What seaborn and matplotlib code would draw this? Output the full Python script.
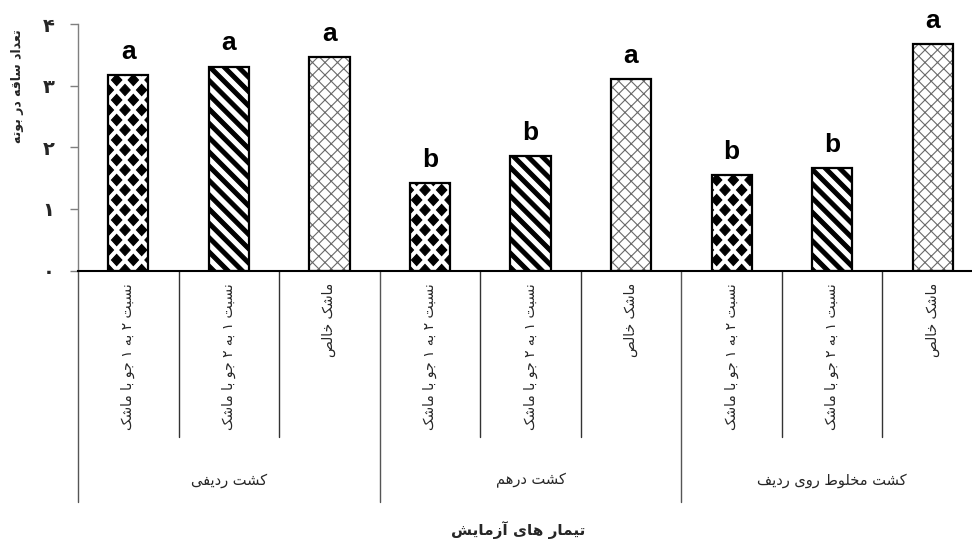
import warnings
warnings.filterwarnings("ignore")

import numpy as np
import pandas as pd
import matplotlib
matplotlib.use("Agg")
import matplotlib.pyplot as plt
import matplotlib.hatch as mhatch
from matplotlib.path import Path
from matplotlib.colors import to_rgba
from matplotlib.transforms import blended_transform_factory
import seaborn as sns

# ---------------------------------------------------------------- data
groups = ["کشت ردیفی", "کشت درهم", "کشت مخلوط روی ردیف"]
treatments = ["نسبت ۲ به ۱ جو با ماشک", "نسبت ۱ به ۲ جو با ماشک", "ماشک خالص"]
stem_counts = [3.17, 3.31, 3.46, 1.42, 1.86, 3.11, 1.55, 1.66, 3.68]
letters = ["a", "a", "a", "b", "b", "a", "b", "b", "a"]
y_ticks = [0, 1, 2, 3, 4]
y_tick_labels = ["۰", "۱", "۲", "۳", "۴"]
y_title = "تعداد ساقه در بوته"
x_title = "تیمار های آزمایش"

# ------------------------------------------------ Persian glyph shaping
# (isolated, final, initial, medial) presentation forms
FORMS = {
    "ا": ("\uFE8D", "\uFE8E", None, None),
    "آ": ("\uFE81", "\uFE82", None, None),
    "ب": ("\uFE8F", "\uFE90", "\uFE91", "\uFE92"),
    "ت": ("\uFE95", "\uFE96", "\uFE97", "\uFE98"),
    "ج": ("\uFE9D", "\uFE9E", "\uFE9F", "\uFEA0"),
    "خ": ("\uFEA5", "\uFEA6", "\uFEA7", "\uFEA8"),
    "د": ("\uFEA9", "\uFEAA", None, None),
    "ر": ("\uFEAD", "\uFEAE", None, None),
    "ز": ("\uFEAF", "\uFEB0", None, None),
    "س": ("\uFEB1", "\uFEB2", "\uFEB3", "\uFEB4"),
    "ش": ("\uFEB5", "\uFEB6", "\uFEB7", "\uFEB8"),
    "ص": ("\uFEB9", "\uFEBA", "\uFEBB", "\uFEBC"),
    "ط": ("\uFEC1", "\uFEC2", "\uFEC3", "\uFEC4"),
    "ع": ("\uFEC9", "\uFECA", "\uFECB", "\uFECC"),
    "ف": ("\uFED1", "\uFED2", "\uFED3", "\uFED4"),
    "ق": ("\uFED5", "\uFED6", "\uFED7", "\uFED8"),
    "ل": ("\uFEDD", "\uFEDE", "\uFEDF", "\uFEE0"),
    "م": ("\uFEE1", "\uFEE2", "\uFEE3", "\uFEE4"),
    "ن": ("\uFEE5", "\uFEE6", "\uFEE7", "\uFEE8"),
    "ه": ("\uFEE9", "\uFEEA", "\uFEEB", "\uFEEC"),
    "و": ("\uFEED", "\uFEEE", None, None),
    "ی": ("\uFBFC", "\uFBFD", "\uFBFE", "\uFBFF"),
    "ک": ("\uFB8E", "\uFB8F", "\uFB90", "\uFB91"),
}


def shape_fa(text):
    """Join Persian letters into their contextual forms and lay them out
    right-to-left for a left-to-right text renderer."""
    out = []
    for i, ch in enumerate(text):
        if ch not in FORMS:
            out.append(ch)
            continue
        prev = text[i - 1] if i > 0 else ""
        nxt = text[i + 1] if i + 1 < len(text) else ""
        join_prev = prev in FORMS and FORMS[prev][2] is not None
        join_next = FORMS[ch][2] is not None and nxt in FORMS
        iso, fin, ini, med = FORMS[ch]
        if join_prev and join_next:
            out.append(med)
        elif join_prev:
            out.append(fin)
        elif join_next:
            out.append(ini)
        else:
            out.append(iso)
    return "".join(reversed(out))


# ---------------------------------------------------------- fill tiles
class FillPatterns(mhatch.HatchPatternBase):
    """'D' staggered black diamonds, 'S' thick back-diagonal stripes,
    'C' fine diagonal cross-hatch."""

    def __init__(self, hatch, density):
        self.pieces = []
        if "D" in hatch:
            ncol, nrow = 6, 10
            hw, hh = 0.5 / ncol * 0.62, 1.0 / nrow * 0.56
            diamond = np.array([[0, hh], [hw, 0], [0, -hh], [-hw, 0], [0, hh]])
            dcodes = [Path.MOVETO, Path.LINETO, Path.LINETO, Path.LINETO, Path.CLOSEPOLY]
            for r in range(nrow + 1):
                y = r / nrow
                if r % 2 == 0:
                    xs = np.arange(ncol + 1) / ncol
                else:
                    xs = (np.arange(ncol) + 0.5) / ncol
                for x in xs:
                    self.pieces.append((diamond + [x, y], dcodes))
        if "S" in hatch:
            n = 7
            h = 0.19 / n
            scodes = [Path.MOVETO, Path.LINETO, Path.LINETO, Path.LINETO, Path.CLOSEPOLY]
            for k in range(-1, 2 * n + 2):
                c = k / n
                band = np.array([[-1, c - h + 1], [2, c - h - 2],
                                 [2, c + h - 2], [-1, c + h + 1],
                                 [-1, c - h + 1]])
                self.pieces.append((band, scodes))
        if "C" in hatch:
            n = 8
            lcodes = [Path.MOVETO, Path.LINETO]
            for k in range(-1, 2 * n + 2):
                c = k / n
                self.pieces.append((np.array([[-1, c + 1], [2, c - 2]]), lcodes))
            for k in range(-n - 1, n + 2):
                c = k / n
                self.pieces.append((np.array([[-1, -1 - c], [2, 2 - c]]), lcodes))
        self.num_vertices = sum(len(v) for v, _ in self.pieces)

    def set_vertices_and_codes(self, vertices, codes):
        i = 0
        for v, c in self.pieces:
            n = len(v)
            vertices[i:i + n] = v
            codes[i:i + n] = c
            i += n


mhatch._hatch_types.append(FillPatterns)

# ---------------------------------------------------------------- style
sns.set_theme(style="white")
plt.rcParams["font.family"] = ["DejaVu Sans"]
plt.rcParams["hatch.linewidth"] = 0.8

slots = [f"{g} | {t}" for g in groups for t in treatments]
df = pd.DataFrame({"slot": slots, "stems": stem_counts})

W, H = 972, 560
fig = plt.figure(figsize=(W / 100, H / 100), dpi=100)
x0, x1, yb, yt = 78, 983, 270.5, 24
ax = fig.add_axes([x0 / W, 1 - yb / H, (x1 - x0) / W, (yb - yt) / H])

sns.barplot(data=df, x="slot", y="stems", order=slots, width=0.4,
            color="white", saturation=1, edgecolor="black", linewidth=1.6,
            errorbar=None, ax=ax)

patterns = ["D", "S", "C"]
for i, p in enumerate(ax.patches):
    p.set_hatch(patterns[i % 3])
    p.set_edgecolor("black")
    if patterns[i % 3] == "C":
        if hasattr(p, "set_hatchcolor"):
            p.set_hatchcolor("#6a6a6a")
        else:
            p._hatch_color = to_rgba("#6a6a6a")

ax.set_xlim(-0.5, len(slots) - 0.5)
ax.set_ylim(0, 4)
ax.set_xlabel("")
ax.set_ylabel("")

# significance letters
for i, (v, lt) in enumerate(zip(stem_counts, letters)):
    ax.annotate(lt, (i, v), xytext=(0, 8), textcoords="offset points",
                ha="center", va="bottom", fontsize=19, fontweight="bold",
                family=["Liberation Sans", "DejaVu Sans"], color="black")

# axes decoration
for s in ("top", "right"):
    ax.spines[s].set_visible(False)
ax.spines["left"].set_color("#7f7f7f")
ax.spines["left"].set_linewidth(1.0)
ax.spines["bottom"].set_color("black")
ax.spines["bottom"].set_linewidth(1.5)
ax.tick_params(axis="x", length=0, labelbottom=False)
ax.set_yticks(y_ticks)
ax.set_yticklabels(y_tick_labels, fontsize=14, fontweight="bold")
ax.tick_params(axis="y", direction="out", length=6, width=1.0,
               color="#7f7f7f", pad=11, left=True)

# category table below the bars
trans = blended_transform_factory(ax.transData, ax.transAxes)
for k in range(len(slots) + 1):
    xb = k - 0.5
    low = -0.94 if k % 3 == 0 else -0.675
    col = "#555555" if k % 3 == 0 else "#333333"
    ax.plot([xb, xb], [0, low], transform=trans, clip_on=False,
            color=col, lw=1.0)

for i, s in enumerate(slots):
    ax.text(i, -0.05, shape_fa(treatments[i % 3]), transform=trans,
            rotation=90, ha="center", va="top", fontsize=10)

for gi, g in enumerate(groups):
    ax.text(gi * 3 + 1, -0.85, shape_fa(g), transform=trans,
            ha="center", va="center", fontsize=10.5)

fig.text(518 / W, 1 - 530 / H, shape_fa(x_title), ha="center", va="center",
         fontsize=11, fontweight="bold")
fig.text(17 / W, 1 - 86 / H, shape_fa(y_title), rotation=90, ha="center",
         va="center", fontsize=9, fontweight="bold")

fig.savefig("out.png", dpi=100)
